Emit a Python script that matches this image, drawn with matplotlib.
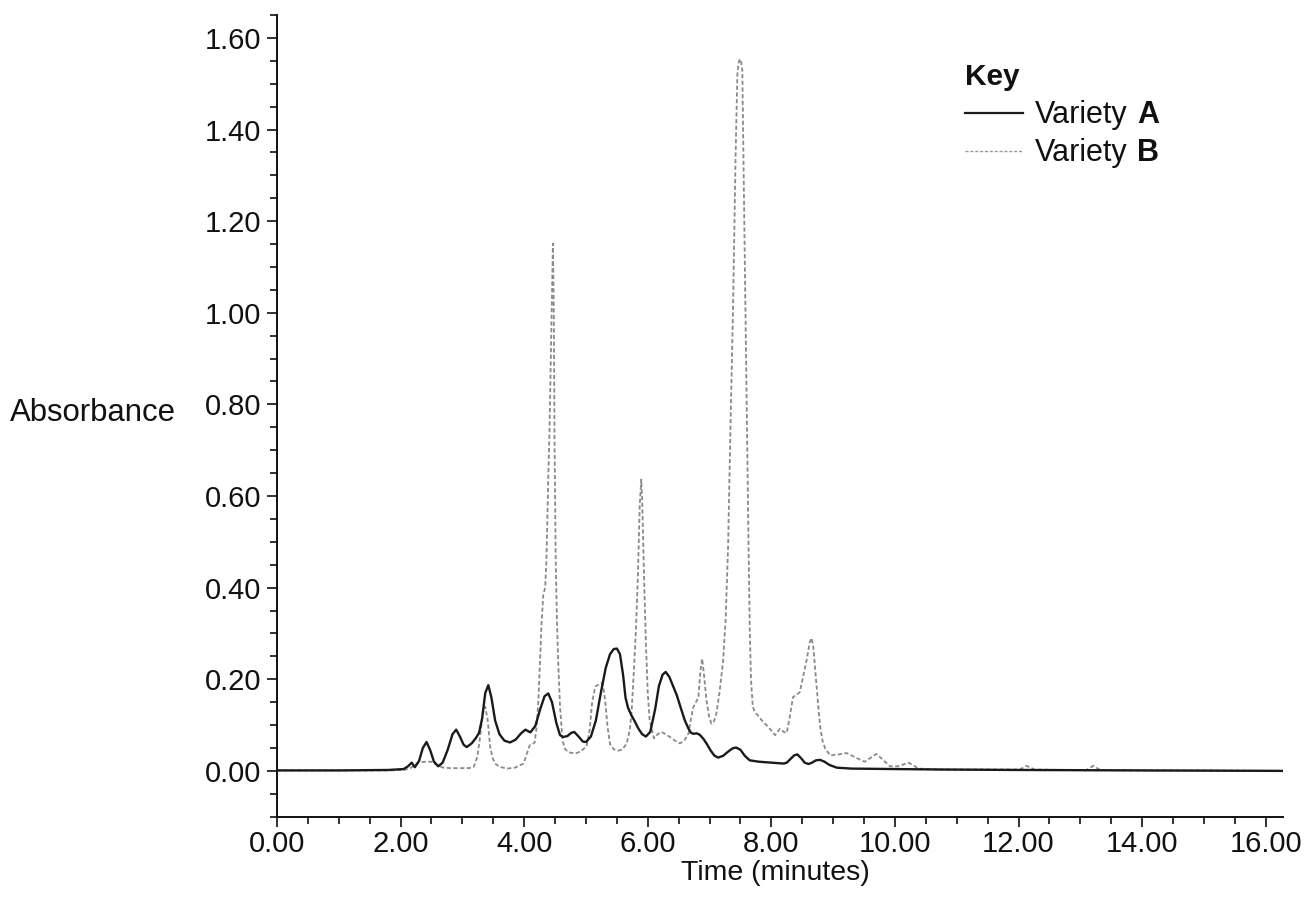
import matplotlib
matplotlib.use("Agg")
import matplotlib.pyplot as plt
from matplotlib.lines import Line2D
from matplotlib.ticker import MultipleLocator, FormatStrFormatter

# ---- data ----
time_a = [0.00, 1.00, 1.80, 2.05, 2.12, 2.18, 2.23, 2.30, 2.36, 2.42, 2.48, 2.54, 2.61, 2.68,
          2.76, 2.84, 2.90, 2.96, 3.02, 3.07, 3.15, 3.22, 3.27, 3.32, 3.37, 3.42, 3.47, 3.53,
          3.60, 3.68, 3.77, 3.86, 3.95, 4.02, 4.10, 4.18, 4.26, 4.33, 4.39, 4.45, 4.52, 4.58,
          4.63, 4.70, 4.76, 4.81, 4.88, 4.95, 5.00, 5.08, 5.16, 5.24, 5.32, 5.39, 5.45, 5.50,
          5.55, 5.60, 5.64, 5.68, 5.74, 5.79, 5.85, 5.91, 5.97, 6.04, 6.12, 6.18, 6.24, 6.29,
          6.35, 6.41, 6.47, 6.54, 6.60, 6.66, 6.70, 6.74, 6.79, 6.84, 6.90, 6.95, 7.02, 7.08,
          7.14, 7.22, 7.30, 7.37, 7.43, 7.50, 7.57, 7.65, 7.80, 8.00, 8.20, 8.25, 8.31, 8.37,
          8.42, 8.48, 8.54, 8.60, 8.66, 8.72, 8.79, 8.86, 8.94, 9.06, 9.30, 10.00, 10.73, 12.00,
          14.00, 16.28]
abs_a = [0.001, 0.001, 0.002, 0.004, 0.010, 0.018, 0.008, 0.022, 0.050, 0.063, 0.045, 0.020,
         0.010, 0.018, 0.045, 0.080, 0.090, 0.075, 0.057, 0.052, 0.060, 0.072, 0.083, 0.115,
         0.170, 0.187, 0.160, 0.110, 0.080, 0.066, 0.062, 0.068, 0.082, 0.090, 0.084, 0.098,
         0.135, 0.163, 0.169, 0.150, 0.105, 0.078, 0.074, 0.076, 0.083, 0.085, 0.075, 0.064,
         0.063, 0.075, 0.110, 0.170, 0.225, 0.255, 0.266, 0.267, 0.255, 0.210, 0.160, 0.138,
         0.120, 0.108, 0.092, 0.080, 0.075, 0.085, 0.135, 0.185, 0.210, 0.216, 0.205, 0.185,
         0.165, 0.135, 0.110, 0.092, 0.083, 0.081, 0.082, 0.079, 0.070, 0.060, 0.044, 0.033,
         0.029, 0.033, 0.042, 0.049, 0.051, 0.046, 0.033, 0.023, 0.020, 0.018, 0.016, 0.018,
         0.026, 0.034, 0.036, 0.028, 0.018, 0.015, 0.018, 0.023, 0.024, 0.020, 0.013, 0.007,
         0.005, 0.004, 0.003, 0.002, 0.001, 0.000]

time_b = [0.00, 1.00, 1.80, 2.05, 2.15, 2.22, 2.29, 2.40, 2.50, 2.60, 2.69, 2.80, 2.95, 3.10,
          3.18, 3.24, 3.28, 3.33, 3.37, 3.41, 3.45, 3.49, 3.53, 3.60, 3.72, 3.85, 3.99, 4.05,
          4.09, 4.13, 4.17, 4.20, 4.23, 4.26, 4.28, 4.31, 4.34, 4.36, 4.39, 4.41, 4.44, 4.465,
          4.48, 4.49, 4.51, 4.53, 4.55, 4.58, 4.62, 4.66, 4.71, 4.78, 4.85, 4.92, 5.01, 5.06,
          5.10, 5.15, 5.20, 5.25, 5.28, 5.31, 5.35, 5.39, 5.45, 5.52, 5.59, 5.66, 5.71, 5.74,
          5.78, 5.81, 5.84, 5.87, 5.895, 5.91, 5.94, 5.97, 6.00, 6.03, 6.10, 6.16, 6.22, 6.29,
          6.36, 6.44, 6.52, 6.59, 6.66, 6.70, 6.74, 6.78, 6.82, 6.85, 6.88, 6.91, 6.95, 6.99,
          7.03, 7.07, 7.11, 7.16, 7.22, 7.26, 7.30, 7.34, 7.38, 7.42, 7.45, 7.47, 7.49, 7.51,
          7.53, 7.56, 7.60, 7.63, 7.65, 7.67, 7.70, 7.73, 7.80, 7.86, 7.92, 8.00, 8.06, 8.10,
          8.14, 8.20, 8.25, 8.30, 8.35, 8.40, 8.46, 8.52, 8.57, 8.62, 8.65, 8.68, 8.72, 8.76,
          8.79, 8.83, 8.87, 8.95, 9.10, 9.22, 9.35, 9.51, 9.60, 9.70, 9.80, 9.92, 10.05, 10.22,
          10.30, 10.38, 10.73, 11.50, 12.02, 12.13, 12.26, 12.80, 13.10, 13.21, 13.32, 14.00,
          15.00, 16.28]
abs_b = [0.001, 0.001, 0.001, 0.002, 0.005, 0.012, 0.018, 0.020, 0.020, 0.012, 0.007, 0.006,
         0.006, 0.006, 0.008, 0.030, 0.067, 0.125, 0.140, 0.110, 0.052, 0.028, 0.016, 0.009,
         0.005, 0.007, 0.016, 0.040, 0.056, 0.058, 0.062, 0.095, 0.154, 0.250, 0.320, 0.385,
         0.400, 0.460, 0.640, 0.743, 0.960, 1.151, 1.000, 0.743, 0.460, 0.330, 0.241, 0.140,
         0.067, 0.048, 0.041, 0.039, 0.039, 0.043, 0.054, 0.090, 0.150, 0.184, 0.188, 0.192,
         0.185, 0.154, 0.095, 0.058, 0.047, 0.044, 0.047, 0.060, 0.090, 0.132, 0.230, 0.314,
         0.423, 0.580, 0.636, 0.590, 0.423, 0.278, 0.170, 0.111, 0.071, 0.080, 0.085, 0.080,
         0.074, 0.066, 0.060, 0.066, 0.082, 0.115, 0.140, 0.150, 0.160, 0.215, 0.245, 0.210,
         0.154, 0.120, 0.103, 0.108, 0.125, 0.170, 0.241, 0.330, 0.490, 0.760, 1.010, 1.333,
         1.520, 1.545, 1.554, 1.548, 1.530, 1.220, 0.790, 0.500, 0.314, 0.200, 0.140, 0.129,
         0.118, 0.108, 0.100, 0.088, 0.078, 0.085, 0.092, 0.085, 0.083, 0.120, 0.161, 0.165,
         0.172, 0.210, 0.241, 0.280, 0.290, 0.270, 0.205, 0.140, 0.096, 0.065, 0.049, 0.034,
         0.036, 0.039, 0.030, 0.020, 0.028, 0.037, 0.025, 0.010, 0.010, 0.018, 0.012, 0.005,
         0.003, 0.003, 0.003, 0.011, 0.003, 0.002, 0.002, 0.011, 0.002, 0.001, 0.001, 0.000]

series_names = ["Variety", "Variety"]
series_bold = ["A", "B"]
legend_title = "Key"
x_label = "Time (minutes)"
y_label = "Absorbance"

# ---- figure ----
plt.rcParams['font.family'] = ['Liberation Sans', 'DejaVu Sans']
plt.rcParams['lines.scale_dashes'] = False

W, H = 1306, 913
fig = plt.figure(figsize=(W / 100, H / 100), dpi=100)
fig.patch.set_facecolor('white')

ax = fig.add_axes([277 / W, 1 - 816.7 / H, 1006 / W, (816.7 - 15) / H])

ax.plot(time_b, abs_b, color='#8a8a8a', lw=1.3, dashes=(3.0, 1.8), zorder=2)
ax.plot(time_a, abs_a, color='#1a1a1a', lw=1.7, zorder=3)

ax.set_xlim(0, 16.28)
ax.set_ylim(-0.10, 1.65)

ax.xaxis.set_major_locator(MultipleLocator(2))
ax.xaxis.set_minor_locator(MultipleLocator(0.5))
ax.yaxis.set_major_locator(MultipleLocator(0.2))
ax.yaxis.set_minor_locator(MultipleLocator(0.05))
ax.xaxis.set_major_formatter(FormatStrFormatter('%.2f'))
ax.yaxis.set_major_formatter(FormatStrFormatter('%.2f'))

for s in ['top', 'right']:
    ax.spines[s].set_visible(False)
for s in ['left', 'bottom']:
    ax.spines[s].set_linewidth(1.4)
    ax.spines[s].set_color('#111111')

ax.tick_params(axis='both', which='major', direction='out', length=7.5, width=1.2,
               labelsize=21, colors='#111111')
ax.tick_params(axis='both', which='minor', direction='out', length=4.8, width=1.2,
               colors='#111111')
ax.tick_params(axis='x', which='major', pad=2)
ax.tick_params(axis='y', which='major', pad=4)

# axis labels
fig.text(10 / W, 1 - 413 / H, y_label, fontsize=22.4, ha='left', va='center', color='#111111')
fig.text(775 / W, 1 - 873 / H, x_label, fontsize=20.5, ha='center', va='center', color='#111111')

# legend (manual)
fig.text(965 / W, 1 - 85 / H, legend_title, fontsize=21.5, fontweight='bold',
         ha='left', va='baseline', color='#111111')
line_y = [113, 151]
base_y = [123.3, 160.7]
styles = [dict(color='#1a1a1a', lw=1.6), dict(color='#9a9a9a', lw=1.0, dashes=(2.2, 1.3))]
for i in range(2):
    fig.add_artist(Line2D([965 / W, 1023 / W], [1 - line_y[i] / H, 1 - line_y[i] / H],
                          transform=fig.transFigure, **styles[i]))
    fig.text(1035 / W, 1 - base_y[i] / H, series_names[i], fontsize=22,
             ha='left', va='baseline', color='#111111')
    fig.text(1137 / W, 1 - base_y[i] / H, series_bold[i], fontsize=22, fontweight='bold',
             ha='left', va='baseline', color='#111111')

fig.savefig('out.png', dpi=100, facecolor='white')
